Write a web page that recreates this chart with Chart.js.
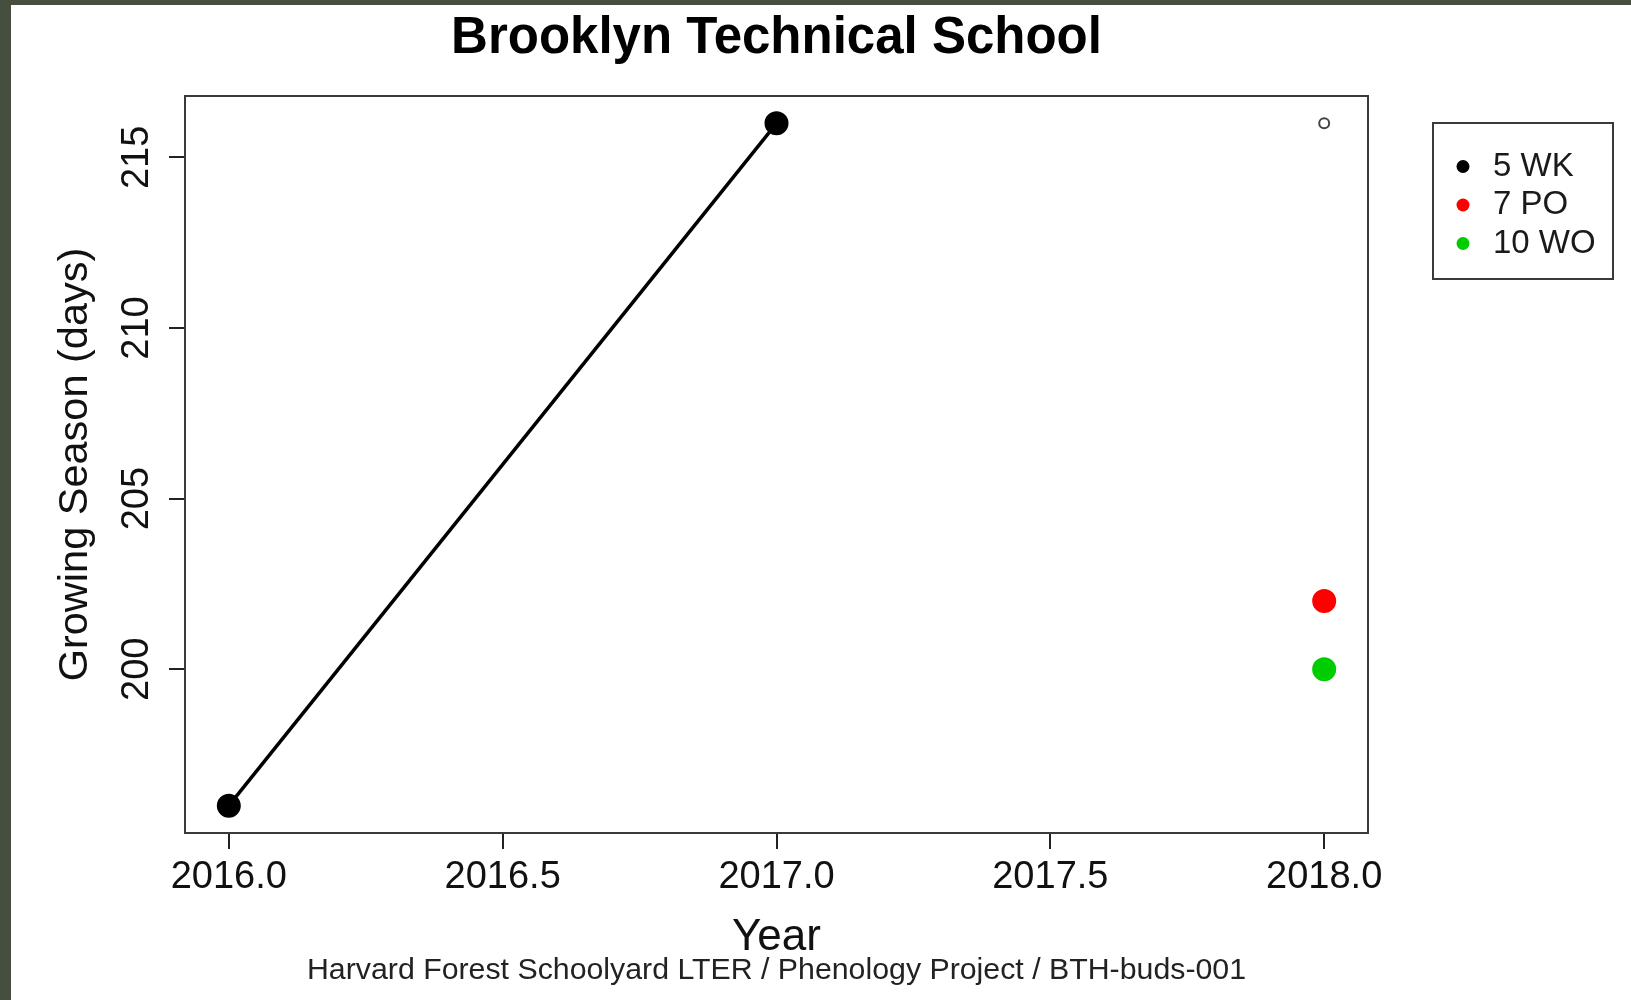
<!DOCTYPE html>
<html>
<head>
<meta charset="utf-8">
<title>Brooklyn Technical School</title>
<script src="https://cdn.jsdelivr.net/npm/chart.js@4.4.0/dist/chart.umd.min.js"></script>
<style>
  html, body { margin: 0; padding: 0; background: #464e3f; overflow: hidden; }
  #frame { position: absolute; left: 11px; top: 5px; width: 1620px; height: 995px; background: #fff; }
</style>
</head>
<body>
<div id="frame"><canvas id="chart" width="1620" height="995"></canvas></div>
<script>
// --- data ---
const years5WK = [2016, 2017];
const season5WK = [196, 216];
const years5WKOpen = [2018];      // small open marker top right
const season5WKOpen = [216];
const years7PO = [2018];
const season7PO = [202];
const years10WO = [2018];
const season10WO = [200];

const xTickValues = [2016, 2016.5, 2017, 2017.5, 2018];
const yTickValues = [200, 205, 210, 215];

const FONT = '"Liberation Sans", Arial, sans-serif';

const pts = (xs, ys) => xs.map((x, i) => ({ x: x, y: ys[i] }));

// box round the plot + the boxed legend on the right
const boxAndLegend = {
  id: 'boxAndLegend',
  afterDraw(chart) {
    const ctx = chart.ctx;
    const a = chart.chartArea;
    ctx.save();
    ctx.strokeStyle = '#3a3a3a';
    ctx.lineWidth = 2;
    ctx.strokeRect(a.left, a.top, a.right - a.left, a.bottom - a.top);

    // legend
    const lx = a.right + 65, ly = a.top + 27;
    ctx.strokeRect(lx, ly, 180, 156);
    ctx.font = '33px ' + FONT;
    ctx.textBaseline = 'middle';
    ctx.textAlign = 'left';
    const items = chart.data.datasets.filter(ds => !ds.noLegend);
    items.forEach((ds, i) => {
      const y = a.top + 70.5 + i * 38.5;
      ctx.beginPath();
      ctx.arc(a.right + 95, y, 6.5, 0, Math.PI * 2);
      ctx.fillStyle = ds.backgroundColor;
      ctx.fill();
      ctx.fillStyle = '#1a1a1a';
      ctx.fillText(ds.label, a.right + 125, y);
    });
    ctx.restore();
  }
};

new Chart(document.getElementById('chart'), {
  type: 'scatter',
  data: {
    datasets: [
      {
        label: '5 WK',
        data: pts(years5WK, season5WK),
        showLine: true,
        borderColor: '#000',
        backgroundColor: '#000',
        borderWidth: 3.5,
        pointRadius: 11,
        pointBorderWidth: 2
      },
      {
        label: '7 PO',
        data: pts(years7PO, season7PO),
        borderColor: '#ff0000',
        backgroundColor: '#ff0000',
        pointRadius: 11,
        pointBorderWidth: 2
      },
      {
        label: '10 WO',
        data: pts(years10WO, season10WO),
        borderColor: '#00cd00',
        backgroundColor: '#00cd00',
        pointRadius: 11,
        pointBorderWidth: 2
      },
      {
        label: '5 WK (open)',
        noLegend: true,
        data: pts(years5WKOpen, season5WKOpen),
        borderColor: '#444',
        backgroundColor: '#fff',
        pointRadius: 5,
        pointBorderWidth: 2
      }
    ]
  },
  options: {
    responsive: false,
    animation: false,
    layout: { padding: { left: 0, right: 263, top: 0, bottom: 0 } },
    plugins: {
      legend: { display: false },
      tooltip: { enabled: false },
      title: {
        display: true,
        text: 'Brooklyn Technical School',
        fullSize: false,
        color: '#000',
        font: { family: FONT, size: 51, weight: 'bold', lineHeight: 1.2 },
        padding: { top: 2.9, bottom: 26.9 }
      },
      subtitle: {
        display: true,
        position: 'bottom',
        text: 'Harvard Forest Schoolyard LTER / Phenology Project / BTH-buds-001',
        fullSize: false,
        color: '#222',
        font: { family: FONT, size: 30.3, lineHeight: 1 },
        padding: { top: 0, bottom: 14.5 }
      }
    },
    scales: {
      x: {
        type: 'linear',
        min: 2015.92,
        max: 2018.08,
        afterBuildTicks: s => { s.ticks = xTickValues.map(v => ({ value: v })); },
        afterFit: s => { s.height = 122.2; s.paddingLeft = 0; s.paddingRight = 0; },
        border: { display: false },
        grid: { drawOnChartArea: false, drawTicks: true, tickLength: 16, color: '#222', lineWidth: 2 },
        ticks: {
          color: '#111',
          font: { family: FONT, size: 38, lineHeight: 1.2 },
          padding: 6.2,
          maxRotation: 0,
          autoSkip: false,
          callback: v => Number(v).toFixed(1)
        },
        title: {
          display: true,
          text: 'Year',
          color: '#111',
          font: { family: FONT, size: 44, lineHeight: 1 },
          padding: { top: 0, bottom: -4.3 }
        }
      },
      y: {
        type: 'linear',
        min: 195.2,
        max: 216.8,
        afterBuildTicks: s => { s.ticks = yTickValues.map(v => ({ value: v })); },
        afterFit: s => { s.width = 174; s.paddingTop = 0; s.paddingBottom = 0; },
        border: { display: false },
        grid: { drawOnChartArea: false, drawTicks: true, tickLength: 16, color: '#222', lineWidth: 2 },
        ticks: {
          color: '#111',
          font: { family: FONT, size: 38 },
          padding: 0,
          minRotation: 90,
          maxRotation: 90,
          crossAlign: 'center',
          autoSkip: false,
          callback: v => String(v)
        },
        title: {
          display: true,
          text: 'Growing Season (days)',
          color: '#111',
          font: { family: FONT, size: 41.5, lineHeight: 1 },
          padding: { top: 43.5, bottom: 0 }
        }
      }
    }
  },
  plugins: [boxAndLegend]
});
</script>
</body>
</html>
